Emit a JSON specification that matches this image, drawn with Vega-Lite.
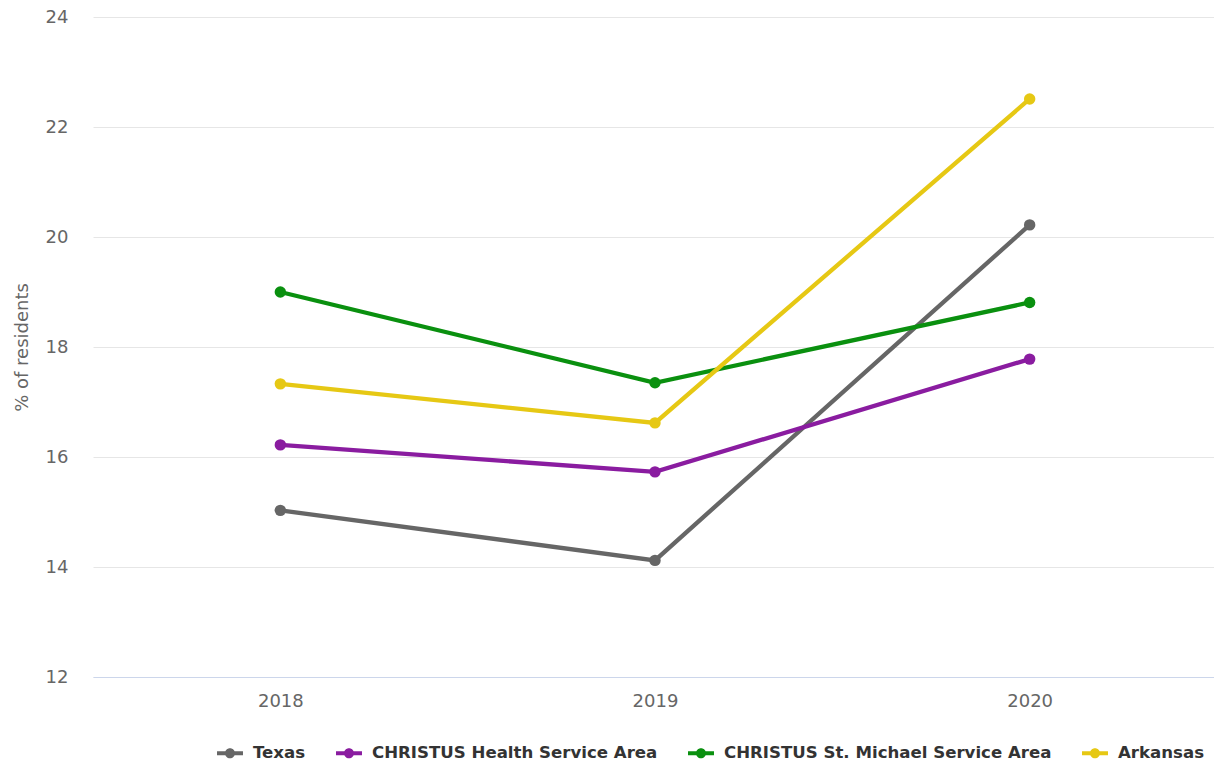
{
  "$schema": "https://vega.github.io/schema/vega-lite/v6.json",
  "width": 1124,
  "height": 660,
  "autosize": {"type": "none"},
  "padding": {"left": 93, "top": 17, "right": 0, "bottom": 87},
  "config": {"view": {"stroke": null}, "font": "DejaVu Sans"},
  "data": {
    "values": [
      {"series": "Texas", "year": "2018", "value": 15.03},
      {"series": "Texas", "year": "2019", "value": 14.12},
      {"series": "Texas", "year": "2020", "value": 20.22},
      {"series": "CHRISTUS Health Service Area", "year": "2018", "value": 16.22},
      {"series": "CHRISTUS Health Service Area", "year": "2019", "value": 15.73},
      {"series": "CHRISTUS Health Service Area", "year": "2020", "value": 17.78},
      {"series": "CHRISTUS St. Michael Service Area", "year": "2018", "value": 19.0},
      {"series": "CHRISTUS St. Michael Service Area", "year": "2019", "value": 17.35},
      {"series": "CHRISTUS St. Michael Service Area", "year": "2020", "value": 18.81},
      {"series": "Arkansas", "year": "2018", "value": 17.33},
      {"series": "Arkansas", "year": "2019", "value": 16.62},
      {"series": "Arkansas", "year": "2020", "value": 22.51}
    ]
  },
  "encoding": {
    "x": {
      "field": "year",
      "type": "ordinal",
      "scale": {"type": "point", "padding": 0.5},
      "axis": {
        "title": null,
        "labelAngle": 0,
        "labelFontSize": 18,
        "labelColor": "#666666",
        "labelPadding": 15,
        "ticks": false,
        "grid": false,
        "domainColor": "#ccd6eb",
        "domainWidth": 1
      }
    },
    "y": {
      "field": "value",
      "type": "quantitative",
      "scale": {"domain": [12, 24], "nice": false, "zero": false},
      "axis": {
        "title": "% of residents",
        "titleFontSize": 18,
        "titleFontWeight": "normal",
        "titleColor": "#666666",
        "titlePadding": 14,
        "values": [12, 14, 16, 18, 20, 22, 24],
        "labelFontSize": 18,
        "labelColor": "#666666",
        "labelPadding": 25,
        "ticks": false,
        "domain": false,
        "grid": true,
        "gridColor": "#e6e6e6",
        "gridWidth": 1
      }
    },
    "color": {
      "field": "series",
      "type": "nominal",
      "scale": {
        "domain": ["Texas", "CHRISTUS Health Service Area", "CHRISTUS St. Michael Service Area", "Arkansas"],
        "range": ["#666666", "#8a1ca0", "#0a900f", "#e6c814"]
      },
      "legend": {
        "title": null,
        "orient": "none",
        "direction": "horizontal",
        "legendX": 128,
        "legendY": 727,
        "labelFontSize": 16.6,
        "labelFontWeight": "bold",
        "labelColor": "#333333",
        "labelOffset": 14,
        "labelLimit": 500,
        "columnPadding": 30,
        "symbolType": "M -1.5 -0.23 H 1.5 V 0.23 H -1.5 Z M 0.58 0 A 0.58 0.58 0 1 1 -0.58 0 A 0.58 0.58 0 1 1 0.58 0 Z",
        "symbolSize": 300,
        "symbolStrokeWidth": 0,
        "symbolOpacity": 1
      }
    }
  },
  "layer": [
    {"mark": {"type": "line", "strokeWidth": 4.3}},
    {"mark": {"type": "point", "filled": true, "size": 130, "opacity": 1}}
  ]
}
